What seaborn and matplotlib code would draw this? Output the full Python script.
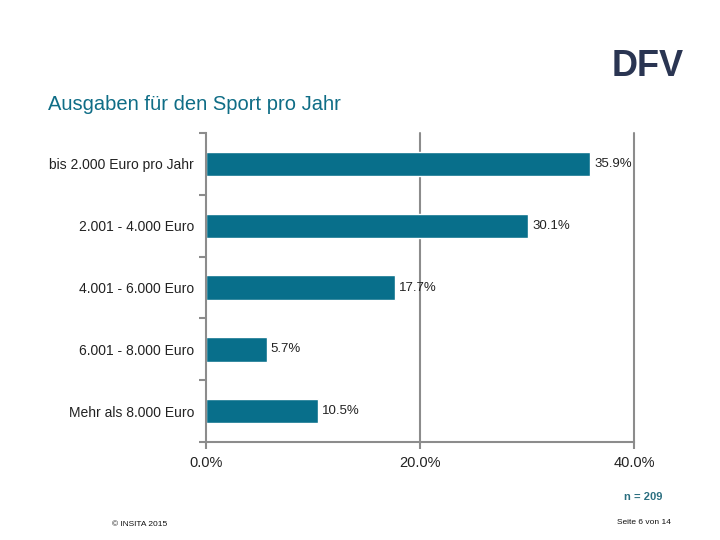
import matplotlib
matplotlib.use("Agg")
import matplotlib.pyplot as plt
import seaborn as sns
import pandas as pd
import numpy as np

# data
kategorien = ["bis 2.000 Euro pro Jahr", "2.001 - 4.000 Euro", "4.001 - 6.000 Euro",
              "6.001 - 8.000 Euro", "Mehr als 8.000 Euro"]
anteile = [35.9, 30.1, 17.7, 5.7, 10.5]
x_ticks = [0, 20, 40]
x_labels = ["0.0%", "20.0%", "40.0%"]

df = pd.DataFrame({"kategorie": kategorien, "anteil": anteile})

sns.set_style("white")
plt.rcParams["font.family"] = ["Liberation Sans", "DejaVu Sans"]

blau = "#086F8B"
grau = "#8c8c8c"

fig = plt.figure(figsize=(7.2, 5.4), dpi=100)
ax = fig.add_axes([0.286, 0.181, 0.595, 0.573])

# gridlines behind the bars
ax.set_axisbelow(True)
for x in x_ticks[1:]:
    ax.axvline(x, color=grau, lw=1.5, zorder=0, clip_on=False)

sns.barplot(data=df, x="anteil", y="kategorie", orient="h", color=blau,
            width=0.39, saturation=1, ax=ax, zorder=2)

ax.set_xlim(0, 40)
ax.set_ylim(4.5, -0.5)
ax.set_xlabel("")
ax.set_ylabel("")

# value labels
for i, v in enumerate(anteile):
    ax.text(v + 0.35, i, f"{v:.1f}%", va="center", ha="left", fontsize=9.5, color="#222222", zorder=3)

# x axis
ax.set_xticks(x_ticks)
ax.set_xticklabels(x_labels, fontsize=10.5, color="#222222")
ax.tick_params(axis="x", bottom=True, direction="out", length=5, width=1.5, color=grau, pad=5)

# y axis: ticks at category boundaries, labels in between
ax.set_yticks(np.arange(-0.5, len(kategorien), 1))
ax.set_yticklabels([])
ax.set_yticks(np.arange(len(kategorien)), minor=True)
ax.set_yticklabels(kategorien, minor=True, fontsize=10, color="#222222")
ax.tick_params(axis="y", which="major", left=True, direction="out", length=5, width=1.5, color=grau)
ax.tick_params(axis="y", which="minor", left=True, length=0, pad=8.5)

for s in ["top", "right"]:
    ax.spines[s].set_visible(False)
for s in ["left", "bottom"]:
    ax.spines[s].set_color(grau)
    ax.spines[s].set_linewidth(1.5)

# title and page texts
fig.text(48 / 720, 1 - 104 / 540, "Ausgaben für den Sport pro Jahr", fontsize=14.5,
         color="#0f6d86", va="center", ha="left")
fig.text(643 / 720, 1 - 497 / 540, "n = 209", fontsize=8, fontweight="bold",
         color="#2b6f80", va="center", ha="center")
fig.text(644 / 720, 1 - 523 / 540, "Seite 6 von 14", fontsize=6, color="#111111",
         va="center", ha="center")
fig.text(140 / 720, 1 - 525 / 540, "© INSITA 2015", fontsize=6, color="#111111",
         va="center", ha="center")

# logo stand-in
fig.text(648 / 720, 1 - 66 / 540, "DFV", fontsize=26, fontweight="bold",
         color="#2a3552", va="center", ha="center")

fig.savefig("out.png", dpi=100, facecolor="white")
